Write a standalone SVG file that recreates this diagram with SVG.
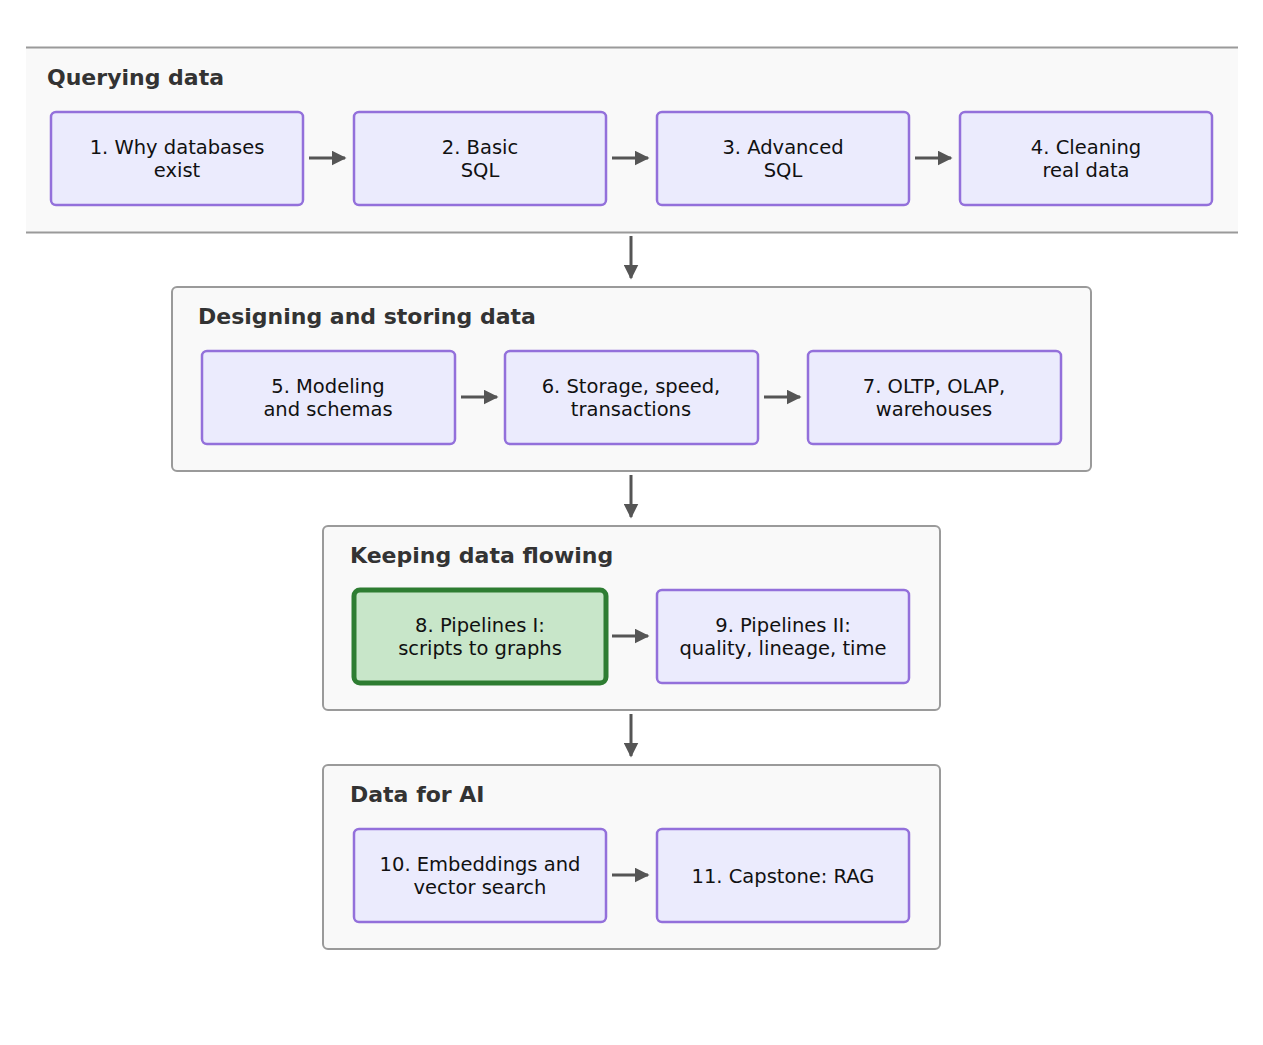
<svg xmlns="http://www.w3.org/2000/svg" width="1263" height="1045" viewBox="0 0 1263 1045">
<style>
.c{fill:#f9f9f9;stroke:#9a9a9a;stroke-width:2}
.n{fill:#ebebfd;stroke:#9370db;stroke-width:2.5}
.g{fill:#c8e6c9;stroke:#2e7d32;stroke-width:5}
.t{font-family:"DejaVu Sans",sans-serif;font-size:19.5px;fill:#111;text-anchor:middle}
.h{font-family:"DejaVu Sans",sans-serif;font-size:22px;font-weight:bold;fill:#333}
.e{stroke:#555;stroke-width:3;fill:none;marker-end:url(#a)}
</style>
<defs><marker id="a" viewBox="0 0 10 10" refX="9" refY="5" markerWidth="5" markerHeight="5" orient="auto" markerUnits="strokeWidth"><path d="M0,0L10,5L0,10z" fill="#555"/></marker></defs>
<g id="c1"><rect x="26" y="47" width="1212" height="185" fill="#f9f9f9"/><path d="M26,47.5H1238M26,232.5H1238" stroke="#9a9a9a" stroke-width="2"/><text class="h" x="47" y="85">Querying data</text></g>
<g id="c2"><rect class="c" x="172" y="287" width="919" height="184" rx="5"/><text class="h" x="198" y="324">Designing and storing data</text></g>
<g id="c3"><rect class="c" x="323" y="526" width="617" height="184" rx="5"/><text class="h" x="350" y="563">Keeping data flowing</text></g>
<g id="c4"><rect class="c" x="323" y="765" width="617" height="184" rx="5"/><text class="h" x="350" y="802">Data for AI</text></g>
<g id="n1"><rect class="n" x="51" y="112" width="252" height="93" rx="5"/><text class="t" x="177" y="154">1. Why databases</text><text class="t" x="177" y="177">exist</text></g>
<g id="n2"><rect class="n" x="354" y="112" width="252" height="93" rx="5"/><text class="t" x="480" y="154">2. Basic</text><text class="t" x="480" y="177">SQL</text></g>
<g id="n3"><rect class="n" x="657" y="112" width="252" height="93" rx="5"/><text class="t" x="783" y="154">3. Advanced</text><text class="t" x="783" y="177">SQL</text></g>
<g id="n4"><rect class="n" x="960" y="112" width="252" height="93" rx="5"/><text class="t" x="1086" y="154">4. Cleaning</text><text class="t" x="1086" y="177">real data</text></g>
<g id="n5"><rect class="n" x="202" y="351" width="253" height="93" rx="5"/><text class="t" x="328" y="393">5. Modeling</text><text class="t" x="328" y="416">and schemas</text></g>
<g id="n6"><rect class="n" x="505" y="351" width="253" height="93" rx="5"/><text class="t" x="631" y="393">6. Storage, speed,</text><text class="t" x="631" y="416">transactions</text></g>
<g id="n7"><rect class="n" x="808" y="351" width="253" height="93" rx="5"/><text class="t" x="934" y="393">7. OLTP, OLAP,</text><text class="t" x="934" y="416">warehouses</text></g>
<g id="n8"><rect class="g" x="354" y="590" width="252" height="93" rx="6"/><text class="t" x="480" y="632">8. Pipelines I:</text><text class="t" x="480" y="655">scripts to graphs</text></g>
<g id="n9"><rect class="n" x="657" y="590" width="252" height="93" rx="5"/><text class="t" x="783" y="632">9. Pipelines II:</text><text class="t" x="783" y="655">quality, lineage, time</text></g>
<g id="n10"><rect class="n" x="354" y="829" width="252" height="93" rx="5"/><text class="t" x="480" y="871">10. Embeddings and</text><text class="t" x="480" y="894">vector search</text></g>
<g id="n11"><rect class="n" x="657" y="829" width="252" height="93" rx="5"/><text class="t" x="783" y="883">11. Capstone: RAG</text></g>
<g id="edges">
<path class="e" d="M309,158H345"/><path class="e" d="M612,158H648"/><path class="e" d="M915,158H951"/>
<path class="e" d="M461,397H497"/><path class="e" d="M764,397H800"/>
<path class="e" d="M612,636H648"/><path class="e" d="M612,875H648"/>
<path class="e" d="M631,236V278"/><path class="e" d="M631,475V517"/><path class="e" d="M631,714V756"/>
</g>
</svg>
